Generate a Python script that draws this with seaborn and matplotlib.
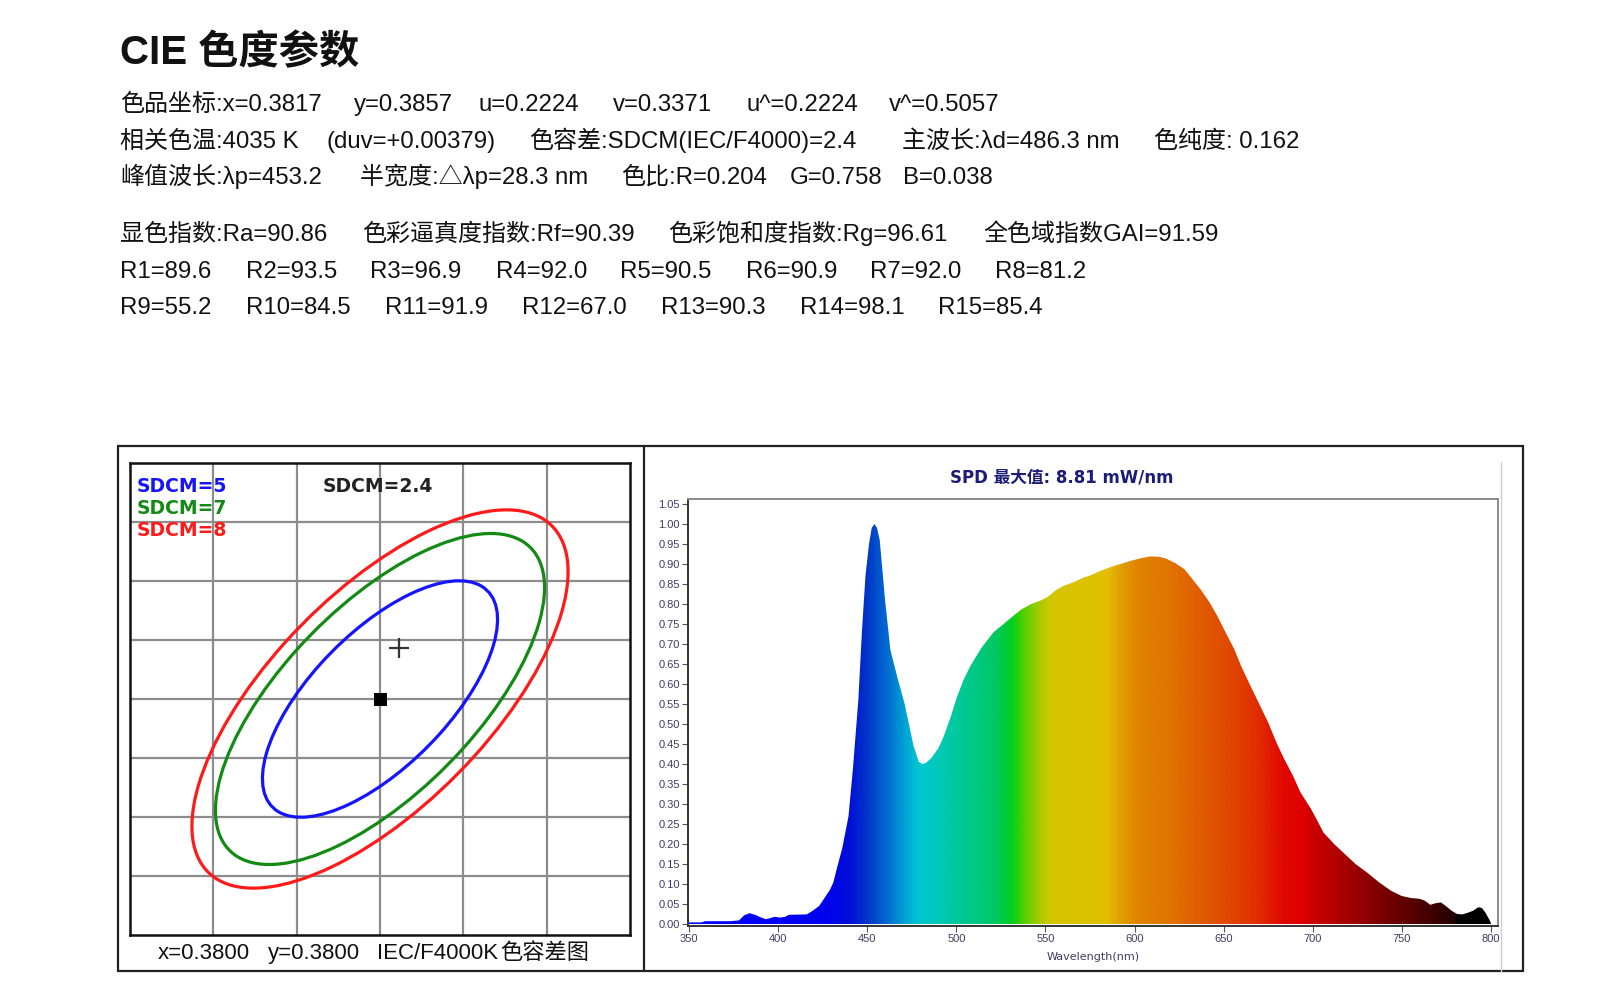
import numpy as np
import matplotlib
matplotlib.use("Agg")
import matplotlib.pyplot as plt
import seaborn as sns
from matplotlib.patches import Ellipse, Polygon, Rectangle
from matplotlib.lines import Line2D
from matplotlib.colors import LinearSegmentedColormap
from matplotlib.ticker import MultipleLocator, FormatStrFormatter

title = "CIE 色度参数"

row_chroma = ["色品坐标:x=0.3817", "y=0.3857", "u=0.2224", "v=0.3371", "u^=0.2224", "v^=0.5057"]
row_cct = ["相关色温:4035 K", "(duv=+0.00379)", "色容差:SDCM(IEC/F4000)=2.4",
           "主波长:λd=486.3 nm", "色纯度: 0.162"]
row_peak = ["峰值波长:λp=453.2", "半宽度:△λp=28.3 nm", "色比:R=0.204", "G=0.758", "B=0.038"]
row_index = ["显色指数:Ra=90.86", "色彩逼真度指数:Rf=90.39", "色彩饱和度指数:Rg=96.61", "全色域指数GAI=91.59"]

cri_labels = ["R1", "R2", "R3", "R4", "R5", "R6", "R7", "R8",
              "R9", "R10", "R11", "R12", "R13", "R14", "R15"]
cri_values = [89.6, 93.5, 96.9, 92.0, 90.5, 90.9, 92.0, 81.2,
              55.2, 84.5, 91.9, 67.0, 90.3, 98.1, 85.4]

# SDCM ellipse (IEC F4000 MacAdam parameters)
center_xy = (0.3800, 0.3800)
measured_xy = (0.3817, 0.3857)
macadam_a = 0.00313
macadam_b = 0.00134
macadam_theta = 53.72
sdcm_steps = [5, 7, 8]
sdcm_colors = ["#1414ff", "#138a13", "#ff1a1a"]
sdcm_value = 2.4
caption = ["x=0.3800", "y=0.3800", "IEC/F4000K", "色容差图"]

# relative SPD
wl = [350, 357, 359, 373, 378, 381, 384, 387, 390, 393, 395, 398, 401, 404, 406, 416,
      419, 423, 426, 429, 431, 433, 436, 439.5, 442, 445, 447, 449, 451, 452.5, 454,
      455.5, 457, 460, 463, 467, 471, 476, 479, 481, 483, 486, 490, 493, 497, 500,
      504, 508, 514, 521, 526, 530, 536, 542, 548, 551, 556, 560, 566, 571, 576, 581,
      587, 592, 598, 604, 609, 614, 618, 623, 628, 632, 637, 642, 646.5, 651, 656,
      660, 665, 670, 675, 680, 684, 689, 693, 699, 703, 706, 712, 718, 724, 731, 737,
      744, 750, 755, 760, 763, 766, 769, 772, 775, 778, 781, 784, 787, 790, 793, 795,
      797, 799, 800]
spd = [0.004, 0.004, 0.007, 0.007, 0.009, 0.022, 0.027, 0.023, 0.017, 0.012, 0.014, 0.018,
       0.016, 0.018, 0.023, 0.024, 0.032, 0.045, 0.065, 0.085, 0.104, 0.140, 0.19, 0.27,
       0.39, 0.56, 0.73, 0.87, 0.95, 0.99, 1.00, 0.99, 0.96, 0.81, 0.685, 0.615, 0.55,
       0.445, 0.405, 0.40, 0.403, 0.415, 0.44, 0.47, 0.52, 0.563, 0.61, 0.646, 0.69,
       0.73, 0.748, 0.763, 0.785, 0.80, 0.81, 0.817, 0.835, 0.845, 0.855, 0.865, 0.873,
       0.883, 0.893, 0.900, 0.908, 0.915, 0.919, 0.918, 0.913, 0.902, 0.887, 0.865,
       0.837, 0.805, 0.77, 0.73, 0.687, 0.643, 0.596, 0.55, 0.504, 0.45, 0.4125, 0.37,
       0.33, 0.288, 0.255, 0.229, 0.20, 0.175, 0.15, 0.127, 0.105, 0.083, 0.07, 0.065,
       0.063, 0.058, 0.048, 0.052, 0.054, 0.044, 0.033, 0.025, 0.024, 0.028, 0.033,
       0.042, 0.040, 0.028, 0.012, 0.003]
spd_title = "SPD 最大值: 8.81 mW/nm"

# spectrum colour stops (wavelength, colour)
stop_wl = [350, 425, 440, 450, 460, 470, 478, 485, 495, 510, 522, 531, 536, 543, 551,
           556, 580, 585, 587, 590, 596, 602, 620, 640, 655, 670, 685, 695, 700, 715,
           730, 745, 760, 775, 780.5, 781, 800]
stop_col = ["#0000ff", "#0000f0", "#0010d8", "#0038c8", "#0068d0", "#00a0d4", "#00c6d2",
            "#00c8c4", "#00c8a8", "#00c884", "#00c860", "#00d020", "#40d000", "#88cc00",
            "#c8c800", "#d8c400", "#dcc200", "#e6bc00", "#e2b400", "#e0a800", "#e09400",
            "#e08400", "#e07400", "#e05800", "#e04600", "#e02c00", "#e00600", "#e00000",
            "#cc0000", "#b00000", "#900000", "#700000", "#500000", "#300000", "#240000",
            "#000000", "#000000"]

# ---- figure ----
sns.set_style("white")
plt.rcParams["font.family"] = ["Liberation Sans", "Noto Sans CJK SC", "DejaVu Sans"]

W, H = 1600, 1000
fig = plt.figure(figsize=(16, 10), dpi=100)


def fx(x):
    return x / W


def fy(y):
    return 1 - y / H


txt_kw = dict(fontsize=17.3, color="#111111", va="baseline")

fig.text(fx(120), fy(64), title, fontsize=29, fontweight="bold", va="baseline", color="#111111")

rows = [
    (row_chroma, [120, 354, 479, 613, 746, 889], 111),
    (row_cct, [120, 326, 529, 902, 1154], 148),
    (row_peak, [120, 360, 621, 790, 903], 184),
    (row_index, [120, 362, 668, 983], 241),
    ([f"{l}={v:.1f}" for l, v in zip(cri_labels[:8], cri_values[:8])],
     [120, 246, 370, 496, 620, 746, 870, 995], 278),
    ([f"{l}={v:.1f}" for l, v in zip(cri_labels[8:], cri_values[8:])],
     [120, 246, 385, 522, 661, 800, 938], 314),
]
for items, xs, y in rows:
    for s, x in zip(items, xs):
        fig.text(fx(x), fy(y), s, **txt_kw)

# outer frame, divider
fig.add_artist(Rectangle((fx(118), fy(971)), (1523 - 118) / W, (971 - 446) / H,
                         transform=fig.transFigure, fill=False, lw=1.6, ec="#222222"))
fig.add_artist(Line2D([fx(644), fx(644)], [fy(446), fy(971)], transform=fig.transFigure,
                      lw=1.6, color="#222222"))
fig.add_artist(Line2D([fx(1501), fx(1501)], [fy(462), fy(971)], transform=fig.transFigure,
                      lw=1.0, color="#cfcfcf"))

# ---- left: SDCM ellipse chart ----
axL = fig.add_axes([fx(130), fy(935), 500 / W, 472 / H])
gx, gy = 0.0076, 0.0066
cx, cy = center_xy
axL.set_xlim(cx - 3 * gx, cx + 3 * gx)
axL.set_ylim(cy - 4 * gy, cy + 4 * gy)
axL.set_xticks([cx + k * gx for k in range(-2, 3)])
axL.set_yticks([cy + k * gy for k in range(-3, 4)])
axL.set_axisbelow(True)
axL.grid(True, color="#8c8c8c", lw=1.6)
axL.tick_params(length=0, labelbottom=False, labelleft=False)
for sp in axL.spines.values():
    sp.set_color("#111111")
    sp.set_linewidth(1.8)

for n, c in zip(sdcm_steps, sdcm_colors):
    axL.add_patch(Ellipse(center_xy, 2 * n * macadam_a, 2 * n * macadam_b, angle=macadam_theta,
                          fill=False, ec=c, lw=2.3, zorder=3))

sns.scatterplot(x=[cx], y=[cy], marker="s", s=85, color="black", edgecolor="black", ax=axL,
                zorder=4)
sns.scatterplot(x=[measured_xy[0]], y=[measured_xy[1]], marker="+", s=220, color="#333333",
                linewidth=1.6, ax=axL, zorder=4)

lg_kw = dict(transform=axL.transAxes, fontsize=13.5, fontweight="bold", family="DejaVu Sans",
             va="center")
for n, c, yy in zip(sdcm_steps, sdcm_colors, [486, 508, 530]):
    axL.text(0.014, 1 - (yy - 463) / 472, f"SDCM={n}", color=c, **lg_kw)
axL.text(0.496, 1 - (486 - 463) / 472, f"SDCM={sdcm_value}", color="#222222", ha="center",
         **lg_kw)

for s, x in zip(caption, [158, 268, 377, 500]):
    fig.text(fx(x), fy(959), s, fontsize=16, color="#111111", va="baseline")

# ---- right: SPD ----
axR = fig.add_axes([fx(688), fy(926), 810 / W, 427 / H])
cmap = LinearSegmentedColormap.from_list(
    "spectrum", [((w - 350) / 450, c) for w, c in zip(stop_wl, stop_col)])
grad = np.linspace(0, 1, 901).reshape(1, -1)
im = axR.imshow(grad, extent=[350, 800, 0, 1.02], aspect="auto", cmap=cmap, origin="lower",
                interpolation="bilinear", zorder=1)
poly = Polygon(np.column_stack([wl + [800, 350], spd + [0, 0]]), closed=True, fc="none",
               ec="none", transform=axR.transData)
axR.add_patch(poly)
im.set_clip_path(poly)

axR.set_xlim(349.4, 804)
axR.set_ylim(-0.005, 1.0625)
axR.set_xticks(range(350, 801, 50))
axR.set_yticks(np.arange(0, 1.051, 0.05))
axR.xaxis.set_minor_locator(MultipleLocator(10))
axR.yaxis.set_minor_locator(MultipleLocator(0.01))
axR.yaxis.set_major_formatter(FormatStrFormatter("%.2f"))
axR.tick_params(which="major", direction="out", length=4, width=0.8, color="#555555",
                labelsize=8, labelcolor="#3c3c64", pad=2)
axR.tick_params(which="minor", direction="out", length=2, width=0.6, color="#777777")
axR.tick_params(left=True, bottom=True)
for k, sp in axR.spines.items():
    sp.set_linewidth(1.4)
    sp.set_color("#333333" if k in ("left", "bottom") else "#8a8a8a")
axR.grid(False)

fig.text(fx(1062), fy(478), spd_title, fontsize=12, fontweight="bold", color="#1c1c78",
         family=["DejaVu Sans", "Noto Sans CJK SC"], ha="center", va="center")
fig.text(fx(1093), fy(957), "Wavelength(nm)", fontsize=8, color="#3c3c64", ha="center",
         va="center", family="DejaVu Sans")

fig.savefig("out.png", dpi=100)
